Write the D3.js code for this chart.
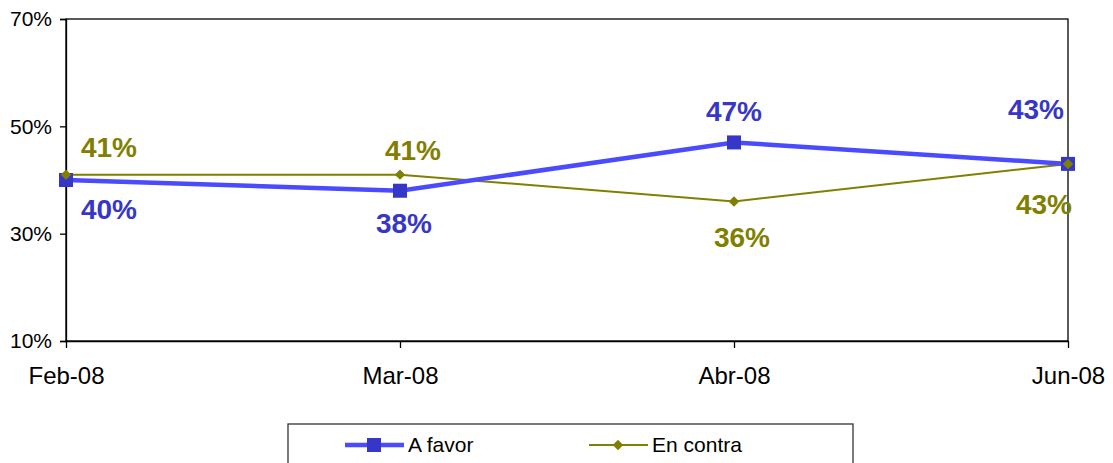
<!DOCTYPE html>
<html>
<head>
<meta charset="utf-8">
<script src="https://cdn.jsdelivr.net/npm/d3@7"></script>
<style>
  body { margin: 0; background: #fff; }
  text { font-family: Arial, "Liberation Sans", sans-serif; }
</style>
</head>
<body>
<div id="chart"></div>
<script>
// data
const months = ["Feb-08", "Mar-08", "Abr-08", "Jun-08"];
const aFavor = [40, 38, 47, 43];
const enContra = [41, 41, 36, 43];
const yTicks = [10, 30, 50, 70];

// label offsets per point (dx, dy from the marker)
const favorLabelPos = [[43, 29], [4, 32], [0, -31], [-32, -55]];
const contraLabelPos = [[43, -27], [13, -24], [8, 36], [-24, 40]];

const W = 1113, H = 463;
const margin = {top: 19, right: 45, bottom: 122, left: 66},
    width = 1068 - margin.left,
    height = 341 - margin.top;

const svg = d3.select("#chart").append("svg")
    .attr("width", W).attr("height", H);

const g = svg.append("g")
    .attr("transform", `translate(${margin.left},${margin.top})`);

const x = d3.scalePoint().domain(months).range([0, width]).padding(0);
const y = d3.scaleLinear().domain([10, 70]).range([height, 0]);

// plot frame
g.append("rect")
    .attr("x", 0).attr("y", 0)
    .attr("width", width).attr("height", height)
    .attr("fill", "none").attr("stroke", "#000").attr("stroke-width", 1.3);

// y axis
const yAxis = g.append("g")
    .call(d3.axisLeft(y).tickValues(yTicks).tickFormat(d => d + "%").tickSizeOuter(0).tickSize(6));
yAxis.select(".domain").attr("stroke", "#000").attr("stroke-width", 1.3);
yAxis.selectAll("line").attr("stroke", "#000").attr("stroke-width", 1.3);
yAxis.selectAll("text").attr("font-size", 21).attr("fill", "#000").attr("x", -14);

// x axis
const xAxis = g.append("g")
    .attr("transform", `translate(0,${height})`)
    .call(d3.axisBottom(x).tickSize(7).tickSizeOuter(0));
xAxis.select(".domain").attr("stroke", "#000").attr("stroke-width", 1.3);
xAxis.selectAll("line").attr("stroke", "#000").attr("stroke-width", 1.3);
xAxis.selectAll("text").attr("font-size", 24).attr("fill", "#000").attr("y", 26);

const blue = "#3636c8", blueLine = "#4a4aff", olive = "#808000";

const line = d3.line()
    .x((d, i) => x(months[i]))
    .y(d => y(d));

// En contra line
g.append("path").datum(enContra)
    .attr("fill", "none").attr("stroke", olive).attr("stroke-width", 2)
    .attr("d", line);

// A favor line
g.append("path").datum(aFavor)
    .attr("fill", "none").attr("stroke", blueLine).attr("stroke-width", 4.5)
    .attr("d", line);

// A favor markers
g.selectAll(".sq").data(aFavor).enter().append("rect")
    .attr("class", "sq")
    .attr("x", (d, i) => x(months[i]) - 7)
    .attr("y", d => y(d) - 7)
    .attr("width", 14).attr("height", 14)
    .attr("fill", blue);

// En contra markers
const diamond = d3.symbol().type(d3.symbolDiamond2).size(70);
g.selectAll(".dm").data(enContra).enter().append("path")
    .attr("class", "dm")
    .attr("transform", (d, i) => `translate(${x(months[i])},${y(d)})`)
    .attr("d", diamond)
    .attr("fill", olive);

// data labels
g.selectAll(".lf").data(aFavor).enter().append("text")
    .attr("class", "lf")
    .attr("x", (d, i) => x(months[i]) + favorLabelPos[i][0])
    .attr("y", (d, i) => y(d) + favorLabelPos[i][1])
    .attr("dy", "0.35em")
    .attr("text-anchor", "middle")
    .attr("font-size", 28).attr("font-weight", "bold")
    .attr("fill", blue)
    .text(d => d + "%");

g.selectAll(".lc").data(enContra).enter().append("text")
    .attr("class", "lc")
    .attr("x", (d, i) => x(months[i]) + contraLabelPos[i][0])
    .attr("y", (d, i) => y(d) + contraLabelPos[i][1])
    .attr("dy", "0.35em")
    .attr("text-anchor", "middle")
    .attr("font-size", 28).attr("font-weight", "bold")
    .attr("fill", olive)
    .text(d => d + "%");

// legend
const legend = svg.append("g").attr("transform", "translate(288,424)");
legend.append("rect")
    .attr("x", 0).attr("y", 0).attr("width", 565).attr("height", 50)
    .attr("fill", "#fff").attr("stroke", "#333").attr("stroke-width", 1.3);

const lf = legend.append("g").attr("transform", "translate(57,21)");
lf.append("line").attr("x1", 0).attr("x2", 59).attr("stroke", blueLine).attr("stroke-width", 4.5);
lf.append("rect").attr("x", 22).attr("y", -7).attr("width", 14).attr("height", 14).attr("fill", blue);
lf.append("text").attr("x", 63).attr("dy", "0.35em").attr("font-size", 21).attr("fill", "#000").text("A favor");

const lc = legend.append("g").attr("transform", "translate(301,21)");
lc.append("line").attr("x1", 0).attr("x2", 59).attr("stroke", olive).attr("stroke-width", 2);
lc.append("path").attr("transform", "translate(29,0)").attr("d", diamond).attr("fill", olive);
lc.append("text").attr("x", 63).attr("dy", "0.35em").attr("font-size", 21).attr("fill", "#000").text("En contra");
</script>
</body>
</html>
